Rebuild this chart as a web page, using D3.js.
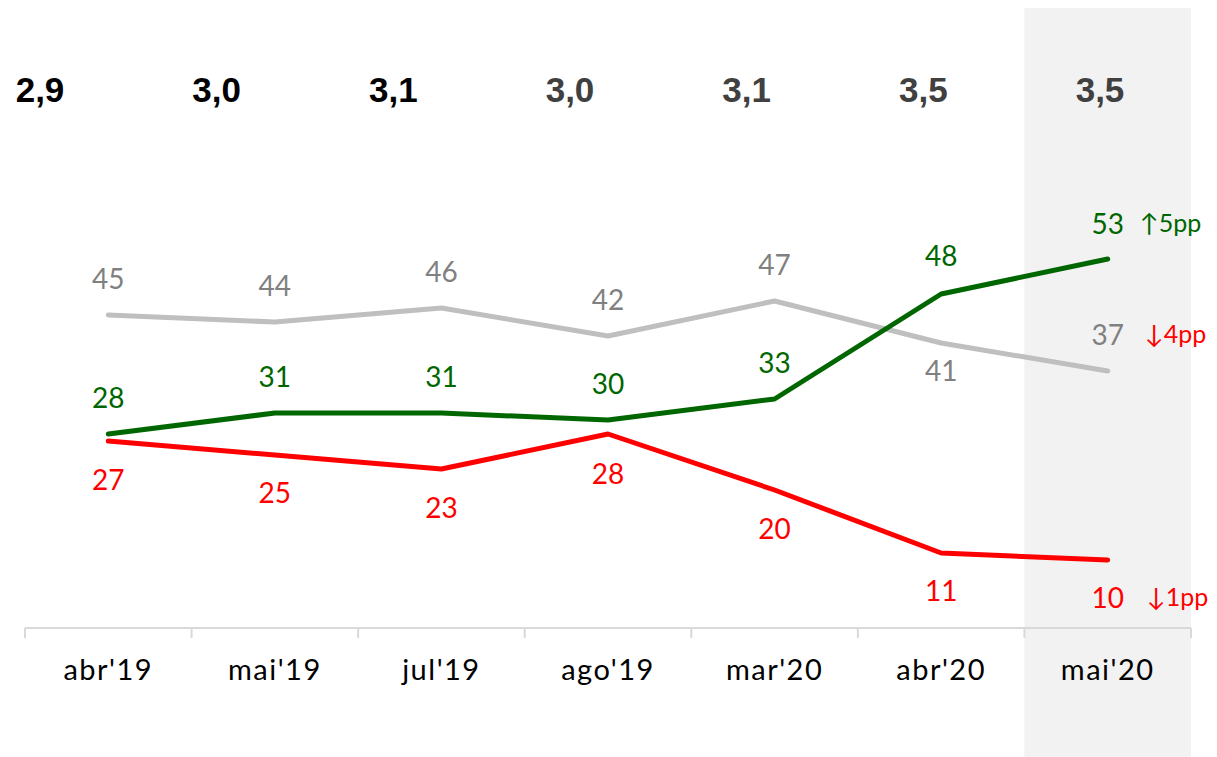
<!DOCTYPE html>
<html>
<head>
<meta charset="UTF-8">
<title>Evolução mensal</title>
<script src="https://cdnjs.cloudflare.com/ajax/libs/d3/7.8.5/d3.min.js"></script>
<style>
  body { margin: 0; background: #fff; }
  svg text { font-family: "Lato", "DejaVu Sans", sans-serif; }
  .top { font-family: "Liberation Sans", Arial, sans-serif !important; font-weight: bold; }
</style>
</head>
<body>
<script>
// data
var months = ["abr'19", "mai'19", "jul'19", "ago'19", "mar'20", "abr'20", "mai'20"];
var topValues = ["2,9", "3,0", "3,1", "3,0", "3,1", "3,5", "3,5"];
var greenValues = [28, 31, 31, 30, 33, 48, 53];
var grayValues = [45, 44, 46, 42, 47, 41, 37];
var redValues = [27, 25, 23, 28, 20, 11, 10];
var deltas = ["↑5pp", "↓4pp", "↓1pp"]; // green, gray, red

var width = 1217, height = 757;

var svg = d3.select("body").append("svg")
    .attr("width", width)
    .attr("height", height);

// set the ranges
var x = d3.scaleBand().domain(months).range([25, 1191]).padding(0);
var xTop = d3.scalePoint().domain(months).range([40, 1100]);
var y = d3.scaleLinear().domain([0, 60]).range([630, 210]);
var cx = function(d) { return x(d) + x.bandwidth() / 2; };

// highlight last month
var last = months[months.length - 1];
svg.append("rect")
    .attr("x", x(last))
    .attr("y", 8)
    .attr("width", x.bandwidth())
    .attr("height", height - 8)
    .attr("fill", "#f2f2f2");

// top row of averages
svg.selectAll(".top")
    .data(months)
    .enter().append("text")
    .attr("class", "top")
    .attr("x", function(d) { return xTop(d); })
    .attr("y", 102)
    .attr("text-anchor", "middle")
    .style("font-size", "35px")
    .attr("fill", function(d, i) { return i < 3 ? "#000" : "#404040"; })
    .text(function(d, i) { return topValues[i]; });

// x axis (ticks at band edges)
var axis = svg.append("g").attr("class", "x axis");
axis.append("line")
    .attr("x1", x.range()[0]).attr("x2", x.range()[1])
    .attr("y1", 628).attr("y2", 628)
    .attr("stroke", "#d9d9d9").attr("stroke-width", 2);
axis.selectAll(".tick")
    .data(months.map(function(d) { return x(d); }).concat([x.range()[1]]))
    .enter().append("line")
    .attr("x1", function(d) { return d; }).attr("x2", function(d) { return d; })
    .attr("y1", 628).attr("y2", 638)
    .attr("stroke", "#d9d9d9").attr("stroke-width", 2);
axis.selectAll(".lab")
    .data(months)
    .enter().append("text")
    .attr("x", cx)
    .attr("y", 680)
    .attr("text-anchor", "middle")
    .style("font-size", "29px")
    .style("letter-spacing", "1.5px")
    .attr("fill", "#000")
    .text(function(d) { return d; });

var series = [
  { values: grayValues, line: "#bfbfbf", text: "#808080", offset: [-26, -26, -26, -26, -26, 38, -26] },
  { values: greenValues, line: "#006600", text: "#006600", offset: [-26, -26, -26, -26, -26, -28, -25] },
  { values: redValues, line: "#ff0000", text: "#ff0000", offset: [49, 48, 49, 50, 49, 48, 48] }
];

var line = d3.line()
    .x(function(d, i) { return cx(months[i]); })
    .y(function(d) { return y(d); });

series.forEach(function(s) {
  svg.append("path")
      .datum(s.values)
      .attr("fill", "none")
      .attr("stroke", s.line)
      .attr("stroke-width", 5)
      .attr("stroke-linecap", "round")
      .attr("stroke-linejoin", "round")
      .attr("d", line);

  svg.selectAll(null)
      .data(s.values)
      .enter().append("text")
      .attr("x", function(d, i) { return cx(months[i]); })
      .attr("y", function(d, i) { return y(d) + s.offset[i]; })
      .attr("text-anchor", "middle")
      .style("font-size", "28px")
      .attr("fill", s.text)
      .text(function(d) { return d; });
});

// change vs previous month
var deltaSeries = [greenValues, grayValues, redValues];
var deltaX = [1140, 1145, 1147];
deltas.forEach(function(t, k) {
  var s = series[[1, 0, 2][k]];
  var n = months.length - 1;
  svg.append("text")
      .attr("x", deltaX[k])
      .attr("y", y(deltaSeries[k][n]) + s.offset[n] - 2)
      .style("font-size", "25px")
      .attr("fill", t.charAt(0) === "↑" ? "#006600" : "#ff0000")
      .text(t);
});
</script>
</body>
</html>
